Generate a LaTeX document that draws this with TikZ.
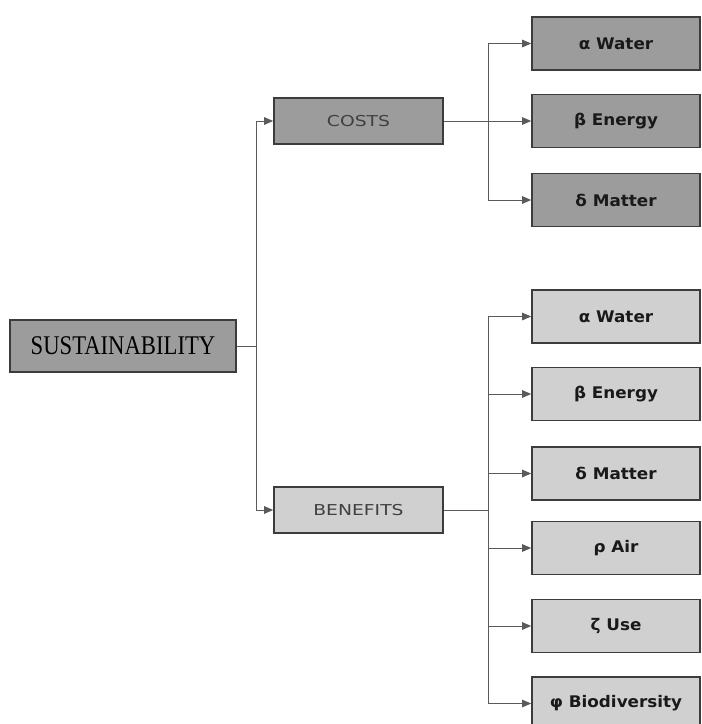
\documentclass[tikz,border=0pt]{standalone}
\usepackage{fontspec}
\usetikzlibrary{arrows.meta}
\newfontfamily\boxfont[FakeStretch=1.05]{DejaVu Sans}
\newfontfamily\midfont[FakeStretch=1.25]{DejaVu Sans}
\newfontfamily\susfont[FakeStretch=0.84]{Liberation Serif}
\definecolor{darkfill}{HTML}{9C9C9C}
\definecolor{lightfill}{HTML}{D0D0D0}
\definecolor{edge}{HTML}{3C3C3C}
\definecolor{wire}{HTML}{5A5A5A}
\begin{document}
\begin{tikzpicture}[x=1pt,y=-1pt,
  box/.style={draw=edge,line width=1.6pt,minimum height=53pt,minimum width=168pt,inner sep=0pt,
     font=\boxfont\bfseries\fontsize{16}{16}\selectfont,text=black!90},
  costbox/.style={box,fill=darkfill},
  benbox/.style={box,fill=lightfill},
  midbox/.style={draw=edge,line width=1.6pt,minimum height=46pt,minimum width=169pt,inner sep=0pt,
     font=\midfont\fontsize{15}{15}\selectfont,text=black!75},
  wireline/.style={draw=wire,line width=1pt},
  arr/.style={wireline,-{Triangle[length=9pt,width=7.5pt]}}]
\useasboundingbox (0,0) rectangle (702,724);
\clip (0,0) rectangle (702,724);
% root
\node[draw=edge,line width=1.6pt,fill=darkfill,minimum width=226pt,minimum height=52pt,inner sep=0pt,
      font=\susfont\fontsize{27}{27}\selectfont,text=black] (sus) at (123,346) {SUSTAINABILITY};
% middle
\node[midbox,fill=darkfill] (costs) at (358.5,121) {COSTS};
\node[midbox,fill=lightfill] (ben) at (358.5,510) {BENEFITS};
% costs leaves
\node[costbox] (cw) at (616,43.5) {α Water};
\node[costbox] (ce) at (616,121) {β Energy};
\node[costbox] (cm) at (616,200) {δ Matter};
% benefit leaves
\node[benbox] (bw) at (616,316.5) {α Water};
\node[benbox] (be) at (616,394) {β Energy};
\node[benbox] (bm) at (616,473.5) {δ Matter};
\node[benbox] (ba) at (616,548) {ρ Air};
\node[benbox] (bu) at (616,626) {ζ Use};
\node[benbox] (bb) at (616,703.5) {φ Biodiversity};
% junctions
\coordinate (trunk) at (256,346);
\coordinate (cj) at (488,121);
\coordinate (bj) at (488,510);
% connectors
\draw[wireline] (sus.east) -- (trunk);
\draw[arr] (trunk) |- (costs.west);
\draw[arr] (trunk) |- (ben.west);
\draw[wireline] (costs.east) -- (cj);
\draw[arr] (cj) |- (cw.west);
\draw[arr] (cj) -- (ce.west);
\draw[arr] (cj) |- (cm.west);
\draw[wireline] (ben.east) -- (bj);
\draw[arr] (bj) |- (bw.west);
\draw[arr] (bj) |- (be.west);
\draw[arr] (bj) |- (bm.west);
\draw[arr] (bj) |- (ba.west);
\draw[arr] (bj) |- (bu.west);
\draw[arr] (bj) |- (bb.west);
\end{tikzpicture}
\end{document}
